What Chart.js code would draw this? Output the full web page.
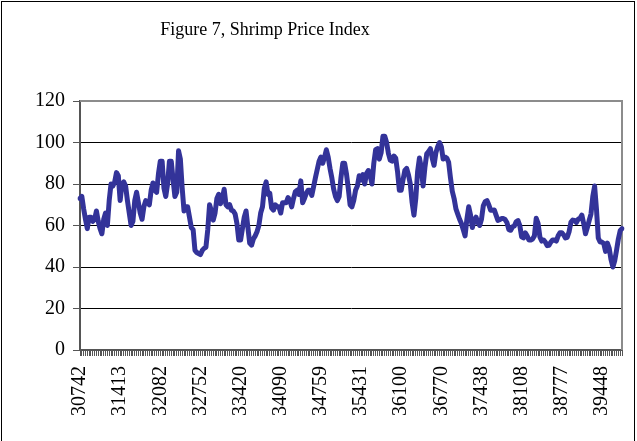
<!DOCTYPE html>
<html>
<head>
<meta charset="utf-8">
<script src="https://cdn.jsdelivr.net/npm/chart.js@4.4.1/dist/chart.umd.min.js"></script>
<style>
  html, body { margin: 0; padding: 0; background: #fff; }
  #wrap { position: relative; width: 637px; height: 441px; overflow: hidden; }
  #frame { position: absolute; left: 1px; top: 1px; width: 634px; height: 460px; border: 1px solid #000; box-sizing: border-box; pointer-events: none; }
  #title { position: absolute; left: 0; top: 19px; width: 530px; text-align: center; font-family: "Liberation Serif", "Times New Roman", serif; font-size: 18px; line-height: 20px; color: #000; }
  canvas { position: absolute; left: 0; top: 0; }
</style>
</head>
<body>
<div id="wrap">
  <canvas id="c" width="637" height="441"></canvas>
  <div id="title">Figure 7, Shrimp Price Index</div>
  <div id="frame"></div>
</div>
<script>
// Monthly Shrimp Price Index, starting March 1984 (Excel serial 30742)
const startYear = 1984;
const startMonth = 3;
const priceIndex = [
  73, 74, 68, 63, 58.5, 64, 64, 62, 63, 67,
  62, 58.5, 56, 63, 66, 60, 72, 80, 79, 81,
  85.5, 84, 72, 80, 81, 79, 72, 66, 60, 62,
  72, 76, 71, 66, 63, 69, 72, 71, 70, 77,
  80.5, 77, 76, 85, 91, 91, 78, 74, 80, 91,
  91, 82, 74, 76, 96, 92, 78, 67, 69, 69,
  64, 59, 58, 48, 47, 46.5, 46, 48, 49, 49.5,
  58, 70, 67, 62.6, 66, 73, 75, 70.5, 73, 77.5,
  70, 69, 70, 67.4, 67, 65.5, 61, 53, 53, 58.5,
  64, 67, 59, 51.5, 50.5, 53.5, 55, 57, 60, 66,
  69, 78, 81, 75, 75.5, 68.5, 67.4, 70, 69, 69,
  66, 71, 71, 71, 73.5, 72, 69, 73, 76.3, 77,
  75, 81.5, 71, 73, 75.5, 77, 77, 74.5, 78.7, 83,
  87, 91, 93, 90, 93, 96.5, 93, 87.5, 83, 77.5,
  74, 72, 74, 83, 90, 90, 85, 78, 70, 69,
  72, 77, 79, 84, 82, 84.5, 80, 85, 86.5, 84,
  80, 90, 96.5, 97, 92, 95, 103, 103, 100, 94.8,
  91.5, 91, 93.5, 92.5, 86, 77, 77, 82, 86.5, 87.5,
  84.4, 80, 71, 65, 73, 86, 92.5, 88, 79, 88,
  94.5, 95.6, 97, 92.5, 89, 95, 98, 100, 98, 92,
  93, 92.5, 90.5, 83, 76.5, 73, 68, 65.5, 63, 61,
  58, 55, 63, 69, 65, 59, 62.5, 64, 61.5, 60,
  63, 69.5, 71.5, 72, 70, 67.4, 67.4, 67.5, 65, 62.5,
  62.8, 63.4, 63.4, 62.8, 61.3, 58, 57.7, 59.4, 59.8, 61.8,
  62.4, 60, 54.5, 54, 56.5, 55, 53, 53, 53.5, 55,
  63.5, 61, 54.5, 52.5, 53, 52, 50.3, 50.5, 52, 53,
  53, 52.5, 55, 56.5, 56.5, 55.5, 54, 54.3, 57, 61.5,
  62.6, 62.4, 61.5, 63, 63.5, 65, 61, 56, 59, 62.4,
  65.5, 74, 79, 68, 54, 52, 52, 51.3, 47.5, 51.5,
  49, 43.5, 40, 43, 48, 53.5, 57.5, 58.5
];
const tickLabels = ["30742", "31413", "32082", "32752", "33420", "34090", "34759",
  "35431", "36100", "36770", "37438", "38108", "38777", "39448"];
const tickEvery = 22;
const yTicks = [0, 20, 40, 60, 80, 100, 120];

const categories = priceIndex.map((_, i) => {
  const m = startMonth - 1 + i;
  const y = startYear + Math.floor(m / 12);
  return y + "-" + String((m % 12) + 1).padStart(2, "0");
});

const plotFrame = {
  id: "plotFrame",
  beforeDatasetsDraw(chart) {
    const a = chart.chartArea, ctx = chart.ctx;
    ctx.save();
    ctx.strokeStyle = "#8c8c8c";
    ctx.lineWidth = 2;
    ctx.beginPath();
    ctx.moveTo(a.left, a.top);
    ctx.lineTo(a.right, a.top);
    ctx.lineTo(a.right, a.bottom);
    ctx.stroke();
    ctx.restore();
  }
};

const font = { family: "'Liberation Serif', 'Times New Roman', serif", size: 20 };

new Chart(document.getElementById("c"), {
  type: "line",
  data: {
    labels: categories,
    datasets: [{
      data: priceIndex,
      borderColor: "#333399",
      borderWidth: 5,
      pointRadius: 0,
      tension: 0,
      fill: false,
      borderJoinStyle: "round",
      borderCapStyle: "round"
    }]
  },
  options: {
    responsive: false,
    animation: false,
    events: [],
    layout: { padding: { left: 0, right: 15, top: 101, bottom: 0 } },
    plugins: { legend: { display: false }, title: { display: false }, tooltip: { enabled: false } },
    scales: {
      x: {
        type: "category",
        offset: false,
        border: { color: "#555", width: 2 },
        grid: { drawOnChartArea: false, drawTicks: true, tickLength: 6, color: "#555", lineWidth: 1 },
        ticks: {
          autoSkip: false,
          maxRotation: 90,
          minRotation: 90,
          padding: 10,
          color: "#000",
          font: font,
          callback: (v, i) => (i % tickEvery === 0 && tickLabels[i / tickEvery]) ? tickLabels[i / tickEvery] : ""
        },
        afterFit: (s) => { s.height = 91; s.paddingRight = 0; s.paddingLeft = 0; }
      },
      y: {
        min: yTicks[0],
        max: yTicks[yTicks.length - 1],
        border: { color: "#555", width: 2 },
        grid: {
          color: (ctx) => ctx.tick && ctx.tick.value === 120 ? "rgba(0,0,0,0)" : "#000",
          tickColor: "#555",
          lineWidth: 1,
          tickLength: 7
        },
        afterBuildTicks: (s) => { s.ticks = yTicks.map(v => ({ value: v })); },
        ticks: { color: "#000", font: font, padding: 8 },
        afterFit: (s) => { s.width = 80; s.paddingTop = 0; s.paddingBottom = 0; }
      }
    }
  },
  plugins: [plotFrame]
});
</script>
</body>
</html>
